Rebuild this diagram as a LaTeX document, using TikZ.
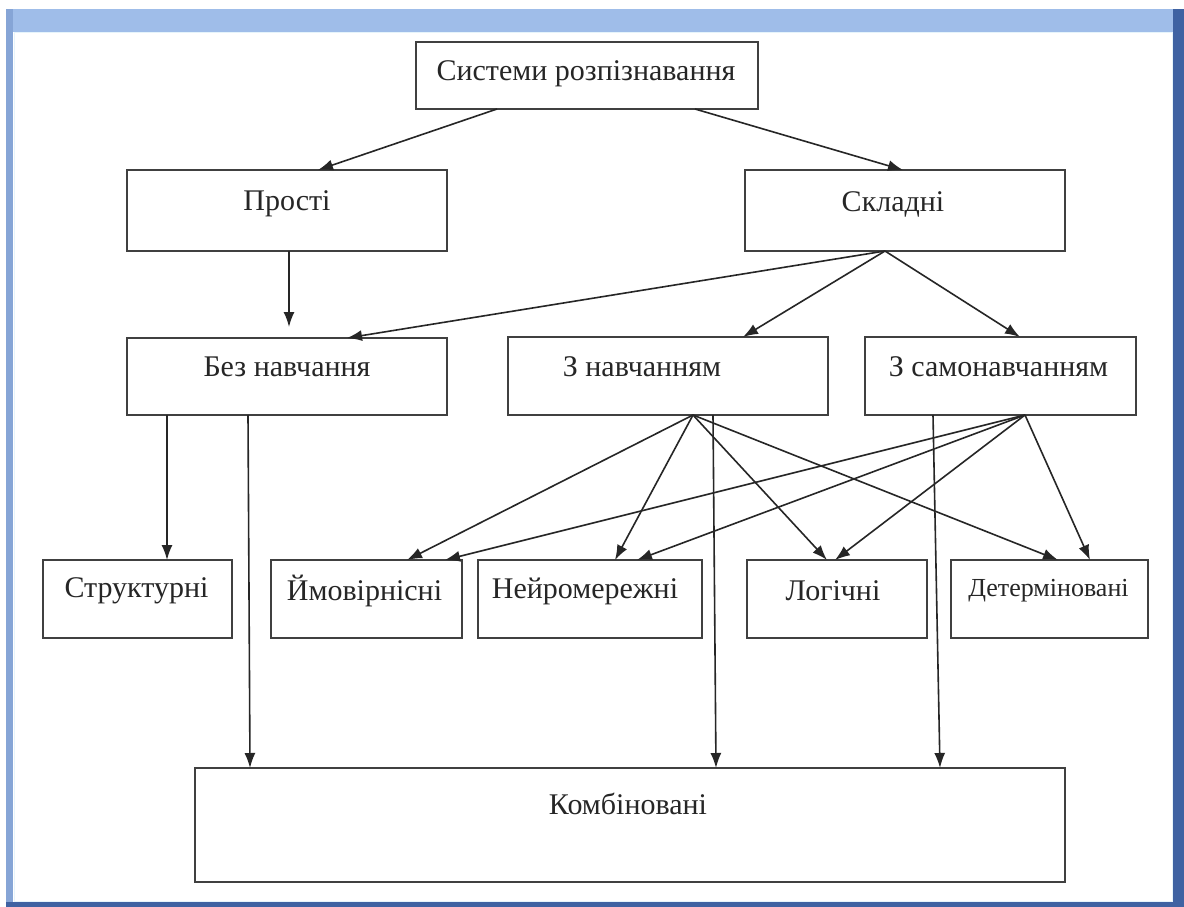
\documentclass[tikz,border=0pt]{standalone}
\usepackage{fontspec}
\setmainfont{Liberation Serif}
\usetikzlibrary{arrows.meta}
\definecolor{bandtop}{HTML}{9FBDE9}
\definecolor{bandleft}{HTML}{86A5D6}
\definecolor{banddark}{HTML}{3F62A2}
\definecolor{inline}{HTML}{E6F4FB}
\begin{document}
\begin{tikzpicture}[x=1pt,y=-1pt,
  box/.style={draw=black!75, line width=1.9pt, inner sep=0pt, outer sep=0pt, fill=white},
  lbl/.style={font=\fontsize{30}{33}\selectfont, inner sep=0pt, text=black!85},
  arr/.style={line width=1.6pt, draw=black!85, -{Latex[length=15pt,width=11pt]}}]
\useasboundingbox (0,0) rectangle (1184,907);
% frame
\fill[white] (0,0) rectangle (1184,907);
\fill[banddark] (6,9) rectangle (1184,907);
\fill[bandtop] (6,9) rectangle (1173,32);
\fill[bandleft] (6,9) rectangle (13,902);
\fill[white] (13,32) rectangle (1173,902);
\draw[inline, line width=1pt] (14,33) rectangle (1172,901);
% boxes
\node[box, minimum width=342pt, minimum height=67pt] (sys) at (587,75.5) {};
\node[box, minimum width=320pt, minimum height=81pt] (prosti) at (287,210.5) {};
\node[box, minimum width=320pt, minimum height=81pt] (skladni) at (905,210.5) {};
\node[box, minimum width=320pt, minimum height=77pt] (bez) at (287,376.5) {};
\node[box, minimum width=320pt, minimum height=78pt] (znav) at (668,376) {};
\node[box, minimum width=271pt, minimum height=78pt] (zsam) at (1000.5,376) {};
\node[box, minimum width=189pt, minimum height=78pt] (strukt) at (137.5,599) {};
\node[box, minimum width=191pt, minimum height=78pt] (ymov) at (366.5,599) {};
\node[box, minimum width=224pt, minimum height=78pt] (neyro) at (590,599) {};
\node[box, minimum width=180pt, minimum height=78pt] (logic) at (837,599) {};
\node[box, minimum width=197pt, minimum height=78pt] (determ) at (1049.5,599) {};
\node[box, minimum width=870pt, minimum height=114pt] (komb) at (630,825) {};
% labels
\node[lbl] (tsys) at ([xshift=-1pt,yshift=-32pt]sys.north) {Системи розпізнавання};
\node[lbl] (tprosti) at ([yshift=-34pt]prosti.north) {Прості};
\node[lbl] (tskladni) at ([xshift=-12pt,yshift=-34pt]skladni.north) {Складні};
\node[lbl] (tbez) at ([yshift=-29pt]bez.north) {Без навчання};
\node[lbl] (tznav) at ([xshift=-26pt,yshift=-30pt]znav.north) {З навчанням};
\node[lbl] (tzsam) at ([xshift=-2pt,yshift=-30pt]zsam.north) {З самонавчанням};
\node[lbl] (tstrukt) at ([xshift=-1pt,yshift=-31pt]strukt.north) {Структурні};
\node[lbl] (tymov) at ([xshift=-2pt,yshift=-31pt]ymov.north) {Ймовірнісні};
\node[lbl] (tneyro) at ([xshift=-5pt,yshift=-31pt]neyro.north) {Нейромережні};
\node[lbl] (tlogic) at ([xshift=-4pt,yshift=-31pt]logic.north) {Логічні};
\node[lbl, font=\fontsize{26}{29}\selectfont] (tdeterm) at ([xshift=-1pt,yshift=-31pt]determ.north) {Детерміновані};
\node[lbl] (tkomb) at ([xshift=-2pt,yshift=-36pt]komb.north) {Комбіновані};
% connectors
\draw[arr] ([xshift=81pt]sys.south west) -- ([xshift=191pt]prosti.north west);
\draw[arr] ([xshift=279pt]sys.south west) -- ([xshift=158pt]skladni.north west);
\draw[arr] ([xshift=162pt]prosti.south west) -- ([xshift=162pt,yshift=11pt]bez.north west);
\draw[arr] ([xshift=140pt]skladni.south west) -- ([xshift=220pt]bez.north west);
\draw[arr] ([xshift=140pt]skladni.south west) -- ([xshift=235pt]znav.north west);
\draw[arr] ([xshift=140pt]skladni.south west) -- ([xshift=155pt]zsam.north west);
\draw[arr] ([xshift=40pt]bez.south west) -- ([xshift=124pt]strukt.north west);
\draw[arr] ([xshift=121pt]bez.south west) -- ([xshift=55pt]komb.north west);
\draw[arr] ([xshift=185pt]znav.south west) -- ([xshift=136pt]ymov.north west);
\draw[arr] ([xshift=185pt]znav.south west) -- ([xshift=137pt]neyro.north west);
\draw[arr] ([xshift=185pt]znav.south west) -- ([xshift=80pt]logic.north west);
\draw[arr] ([xshift=185pt]znav.south west) -- ([xshift=107pt]determ.north west);
\draw[arr] ([xshift=205pt]znav.south west) -- ([xshift=521pt]komb.north west);
\draw[arr] ([xshift=160pt]zsam.south west) -- ([xshift=174pt]ymov.north west);
\draw[arr] ([xshift=160pt]zsam.south west) -- ([xshift=159pt]neyro.north west);
\draw[arr] ([xshift=160pt]zsam.south west) -- ([xshift=88pt]logic.north west);
\draw[arr] ([xshift=160pt]zsam.south west) -- ([xshift=139pt]determ.north west);
\draw[arr] ([xshift=68pt]zsam.south west) -- ([xshift=745pt]komb.north west);
\end{tikzpicture}
\end{document}
